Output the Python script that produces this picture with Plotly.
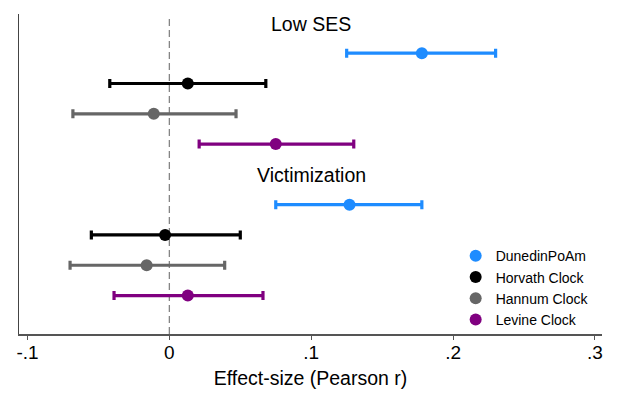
import plotly.graph_objects as go

# data
groups = ["Low SES", "Victimization"]
clocks = ["DunedinPoAm", "Horvath Clock", "Hannum Clock", "Levine Clock"]
colors = ["#1e8cff", "#000000", "#666666", "#800080"]

est_low_ses = [0.178, 0.013, -0.011, 0.075]
lo_low_ses = [0.125, -0.042, -0.068, 0.021]
hi_low_ses = [0.230, 0.068, 0.047, 0.130]

est_victim = [0.127, -0.003, -0.016, 0.013]
lo_victim = [0.075, -0.055, -0.070, -0.039]
hi_victim = [0.178, 0.050, 0.039, 0.066]

estimates = [est_low_ses, est_victim]
lowers = [lo_low_ses, lo_victim]
uppers = [hi_low_ses, hi_victim]

font = "Liberation Sans, Arial, sans-serif"

fig = go.Figure()

# one row per clock, a header row per group
for c_idx, clock in enumerate(clocks):
    xs, ys, plus, minus = [], [], [], []
    for g_idx in range(len(groups)):
        e = estimates[g_idx][c_idx]
        xs.append(e)
        ys.append(-(g_idx * 5 + c_idx + 1))
        plus.append(uppers[g_idx][c_idx] - e)
        minus.append(e - lowers[g_idx][c_idx])
    fig.add_trace(go.Scatter(
        x=xs, y=ys, mode="markers", name=clock,
        marker=dict(color=colors[c_idx], size=12),
        error_x=dict(type="data", symmetric=False, array=plus, arrayminus=minus,
                     color=colors[c_idx], thickness=3.2, width=4.5),
    ))

for g_idx, group in enumerate(groups):
    fig.add_annotation(x=0.1, y=-(g_idx * 5), text=group, showarrow=False,
                       xanchor="center", yanchor="middle", yshift=-1,
                       font=dict(size=19.5, color="black", family=font))

# reference line at zero
fig.add_shape(type="line", x0=0, x1=0, y0=0, y1=0.99, xref="x", yref="paper",
              line=dict(color="#858585", width=1.3, dash="7px,4px"), layer="below")

# the page body keeps its 8px margin, so the figure is 8px smaller than the window
fig.update_layout(
    width=609, height=403,
    margin=dict(l=11, r=15, t=6, b=77),
    plot_bgcolor="white", paper_bgcolor="white",
    font=dict(family=font, color="black"),
    showlegend=True,
    legend=dict(x=0.749, y=0.293, xanchor="left", yanchor="top",
                font=dict(size=14), bgcolor="rgba(0,0,0,0)",
                itemwidth=30, tracegroupgap=0),
    xaxis=dict(range=[-0.106, 0.305], tickvals=[-0.1, 0, 0.1, 0.2, 0.3],
               ticktext=["-.1", "0", ".1", ".2", ".3"],
               showgrid=False, zeroline=False, showline=True, linecolor="#555555",
               linewidth=1.5, ticks="outside", ticklen=4, tickcolor="#555555",
               tickfont=dict(size=19), ticklabelstandoff=-4,
               title=dict(text="Effect-size (Pearson r)", font=dict(size=19.5), standoff=10)),
    yaxis=dict(range=[-10.27, 0.295], showgrid=False, zeroline=False,
               showline=True, linecolor="#444444", linewidth=1.3,
               showticklabels=False, ticks=""),
)

fig.write_html("out.html")
